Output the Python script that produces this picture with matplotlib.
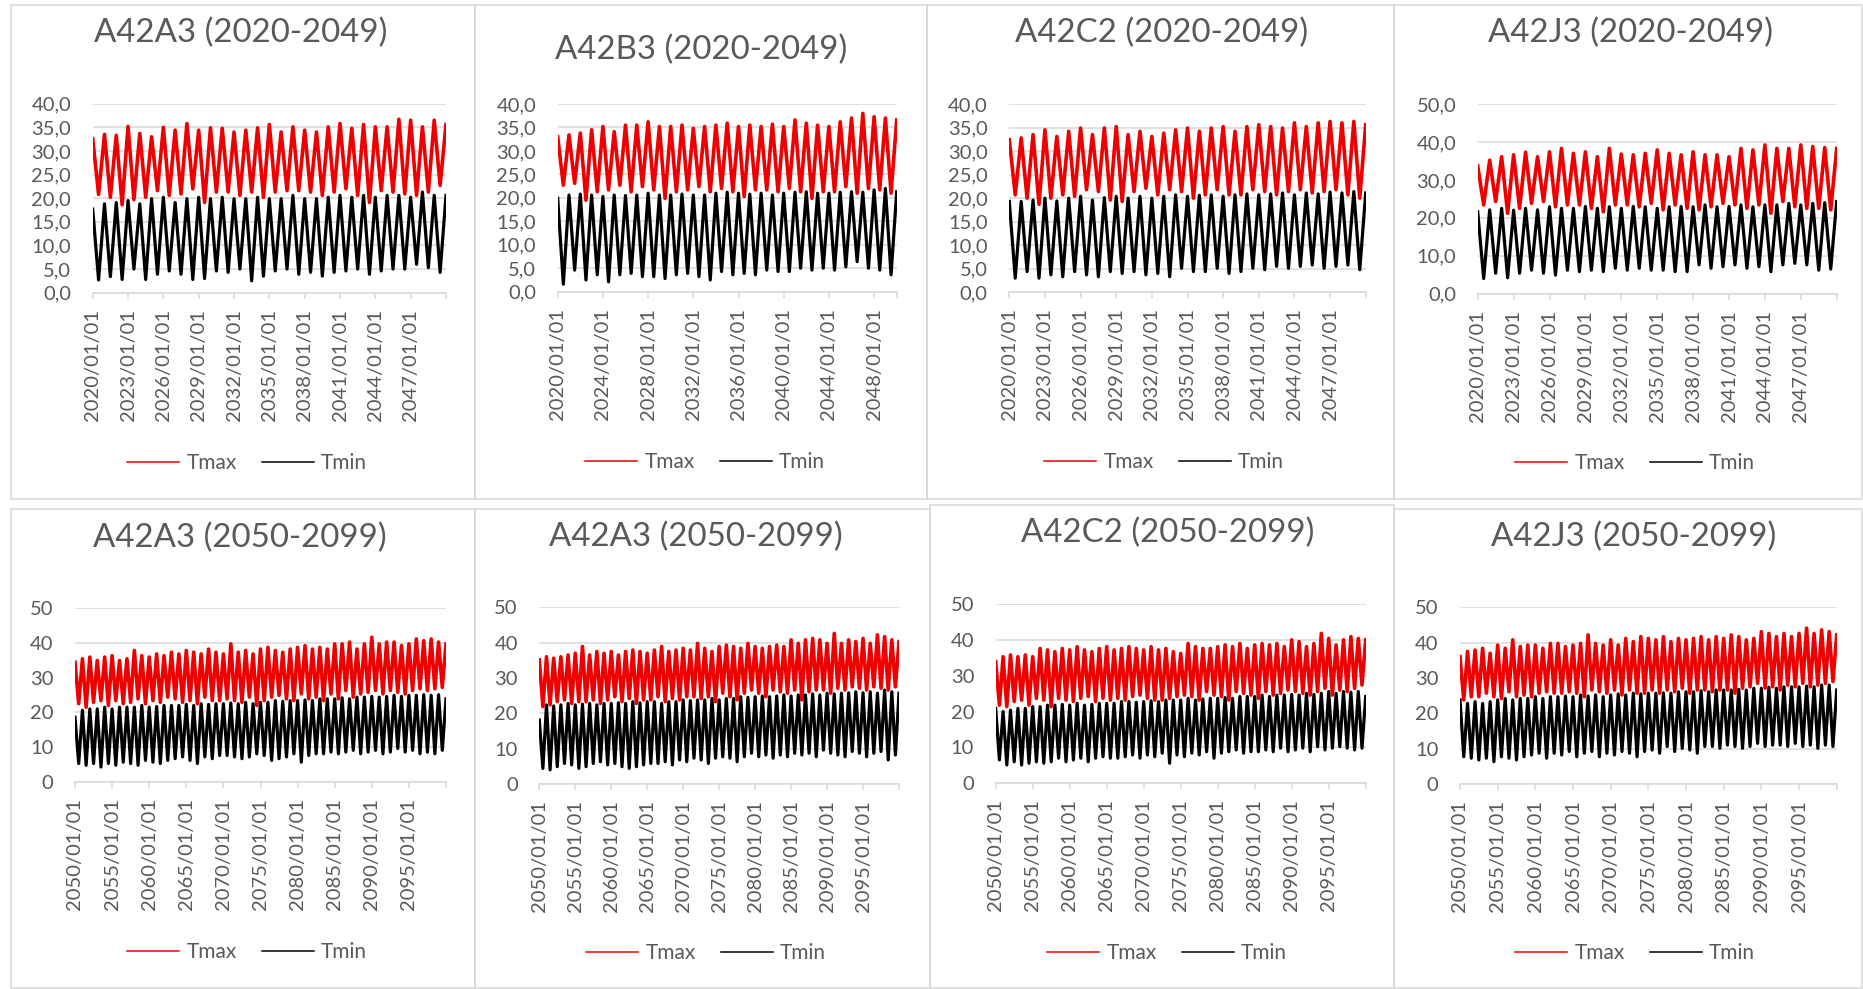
import numpy as np
import matplotlib.pyplot as plt
from matplotlib.lines import Line2D
from matplotlib.patches import Rectangle

# Values: for every year the summer top (around 1 January,
# southern hemisphere) and the winter bottom (around 1 July) of each daily series.
# *_hi has one value per 1 January incl. the closing one, *_lo one per July.

# A42A3 (2020-2049)
p1_tmax_hi = [32.6, 33.5, 33.3, 35.2, 33.7, 33.0, 35.0, 34.4, 35.8, 34.4, 34.9, 34.8, 34.0, 34.4, 34.9, 35.6,
              34.0, 35.1, 34.4, 34.0, 35.1, 35.8, 34.8, 35.6, 35.1, 35.1, 36.7, 36.5, 35.1, 36.5, 35.6]
p1_tmax_lo = [20.8, 20.2, 18.6, 19.7, 20.2, 21.6, 20.6, 20.9, 22.0, 19.1, 21.3, 21.3, 20.6, 21.3, 20.2,
              21.3, 21.6, 21.6, 21.3, 20.6, 21.3, 22.0, 20.6, 19.1, 21.6, 21.3, 20.9, 20.6, 21.3, 22.7]
p1_tmin_hi = [17.7, 18.8, 19.1, 19.5, 18.8, 19.9, 20.2, 19.1, 19.9, 20.2, 19.9, 20.2, 19.9, 19.9, 20.2, 19.9,
              19.9, 20.6, 19.9, 19.9, 20.2, 20.6, 20.2, 20.6, 20.2, 20.6, 20.6, 20.2, 21.3, 20.6, 20.6]
p1_tmin_lo = [2.7, 3.4, 2.8, 5.0, 2.8, 3.9, 4.6, 3.9, 2.8, 3.0, 4.6, 4.3, 5.0, 2.5, 3.5,
              4.6, 5.0, 3.9, 4.3, 3.5, 4.3, 4.6, 5.0, 3.9, 4.6, 5.0, 5.0, 6.0, 5.3, 4.3]

# A42B3 (2020-2049)
p2_tmax_hi = [33.0, 33.4, 33.8, 34.5, 35.2, 34.1, 35.5, 35.5, 36.2, 35.2, 35.2, 35.5, 34.8, 35.2, 35.5, 35.9,
              35.2, 35.5, 35.2, 35.7, 35.2, 36.6, 35.9, 35.5, 35.2, 36.2, 37.0, 38.0, 37.3, 37.0, 36.6]
p2_tmax_lo = [22.7, 23.1, 19.5, 21.3, 21.7, 22.7, 21.3, 22.4, 21.7, 19.9, 21.3, 21.7, 22.4, 21.3, 22.0,
              21.3, 20.3, 21.7, 21.7, 21.3, 22.0, 21.3, 19.9, 21.3, 21.3, 22.4, 21.0, 22.0, 21.7, 21.0]
p2_tmin_hi = [19.9, 20.6, 20.8, 20.6, 20.3, 20.6, 20.5, 20.6, 21.0, 20.6, 20.6, 20.8, 20.6, 20.6, 21.0, 21.2,
              21.0, 20.8, 21.0, 20.6, 21.0, 21.2, 21.3, 21.0, 21.0, 21.2, 21.3, 21.2, 21.7, 22.0, 21.3]
p2_tmin_lo = [1.6, 4.6, 2.5, 3.6, 2.1, 3.6, 3.9, 3.2, 3.2, 2.8, 3.6, 3.9, 3.2, 2.5, 4.3,
              3.6, 3.9, 3.6, 4.6, 4.3, 4.3, 5.0, 4.6, 5.0, 4.6, 5.3, 6.4, 5.0, 4.6, 3.6]

# A42C2 (2020-2049)
p3_tmax_hi = [32.4, 32.8, 33.5, 34.5, 33.1, 34.2, 34.9, 33.5, 34.9, 35.2, 33.5, 34.2, 33.1, 33.8, 34.5, 34.9,
              34.2, 34.9, 35.2, 34.2, 35.2, 35.6, 35.2, 34.9, 36.0, 35.2, 36.0, 36.3, 36.0, 36.3, 35.6]
p3_tmax_lo = [20.7, 20.0, 18.7, 20.0, 20.7, 20.4, 21.8, 21.4, 19.6, 19.3, 21.4, 22.1, 20.7, 21.8, 21.4,
              20.0, 20.7, 21.8, 20.7, 20.7, 21.8, 21.4, 20.7, 21.4, 21.8, 21.1, 21.4, 21.8, 20.7, 20.0]
p3_tmin_hi = [19.3, 19.3, 19.6, 20.0, 19.4, 20.0, 20.4, 19.6, 20.1, 20.4, 20.0, 20.4, 20.0, 20.4, 20.7, 20.4,
              20.6, 20.7, 20.4, 20.7, 20.9, 20.7, 20.9, 21.1, 20.7, 21.1, 20.9, 21.3, 21.1, 21.4, 21.1]
p3_tmin_lo = [3.0, 4.4, 3.0, 3.7, 3.3, 4.4, 3.7, 3.3, 4.4, 4.0, 4.4, 3.7, 4.0, 3.3, 5.1,
              4.4, 4.4, 5.1, 4.0, 4.4, 5.1, 4.8, 5.5, 5.1, 5.5, 5.8, 5.1, 5.5, 5.8, 4.8]

# A42J3 (2020-2049)
p4_tmax_hi = [33.7, 35.2, 36.1, 36.6, 37.3, 36.1, 37.4, 38.3, 37.0, 37.4, 36.1, 38.3, 36.8, 36.6, 37.0, 37.9,
              37.0, 36.6, 37.4, 36.6, 36.6, 36.1, 38.3, 37.9, 39.2, 38.3, 38.3, 39.2, 38.8, 38.5, 38.3]
p4_tmax_lo = [23.4, 24.3, 21.2, 22.5, 23.8, 24.3, 22.9, 23.4, 23.4, 22.5, 21.6, 23.4, 23.4, 22.9, 23.8,
              22.1, 23.4, 22.5, 22.1, 22.9, 23.8, 23.4, 22.5, 23.4, 21.2, 24.3, 22.9, 22.5, 22.5, 22.1]
p4_tmin_hi = [21.6, 22.1, 22.5, 22.0, 22.5, 22.1, 22.9, 22.5, 22.5, 23.0, 22.5, 22.9, 22.5, 23.0, 22.9, 22.5,
              22.9, 23.0, 22.9, 23.4, 22.9, 23.0, 23.4, 22.9, 23.4, 23.4, 23.8, 23.4, 23.8, 24.0, 24.3]
p4_tmin_lo = [4.0, 5.4, 4.2, 5.4, 6.2, 5.4, 4.9, 6.2, 5.8, 6.2, 5.8, 6.7, 6.2, 6.7, 6.2,
              6.2, 5.8, 5.8, 7.6, 6.7, 7.1, 7.6, 6.7, 7.1, 5.8, 7.6, 8.0, 7.6, 6.2, 6.5]

# A42A3 (2050-2099)
p5_tmax_hi = [34.4, 35.4, 35.9, 34.9, 35.9, 36.3, 34.9, 35.4, 37.8, 36.3, 35.9, 36.8, 36.3, 37.3, 36.8, 37.8,
              37.3, 36.8, 38.2, 37.3, 36.8, 39.7, 37.3, 37.8, 36.8, 38.2, 38.7, 37.8, 37.3, 38.2, 38.7,
              39.2, 38.2, 38.7, 38.2, 39.7, 39.7, 40.2, 38.2, 39.7, 41.6, 39.7, 40.2, 40.2, 39.2, 39.7,
              41.1, 40.6, 41.1, 40.2, 39.7]
p5_tmax_lo = [22.5, 21.5, 22.9, 23.4, 22.0, 23.4, 22.5, 22.9, 23.9, 22.5, 23.4, 22.9, 24.4, 23.9, 22.9,
              23.4, 22.5, 24.4, 23.4, 23.4, 23.9, 23.4, 22.9, 24.4, 22.0, 23.4, 24.4, 24.9, 23.9, 23.4,
              25.3, 23.9, 24.4, 23.4, 25.3, 23.9, 26.3, 24.4, 25.3, 25.8, 26.3, 25.3, 26.3, 25.8, 25.3,
              26.3, 26.8, 26.3, 26.8, 27.2]
p5_tmin_hi = [18.6, 20.6, 21.0, 21.0, 21.5, 21.0, 21.5, 21.5, 21.5, 22.0, 21.5, 21.7, 22.0, 22.0, 22.0, 22.3,
              22.0, 22.5, 22.3, 22.5, 22.5, 22.7, 22.5, 22.9, 22.5, 22.9, 22.9, 23.4, 23.2, 23.4, 23.4,
              23.6, 23.4, 23.9, 23.9, 23.9, 24.2, 23.9, 24.4, 24.4, 24.6, 24.4, 24.6, 24.9, 24.6, 24.9,
              24.9, 25.1, 24.9, 25.1, 23.9]
p5_tmin_lo = [5.3, 4.8, 5.3, 4.3, 5.3, 4.8, 5.7, 5.3, 4.8, 6.2, 5.7, 5.3, 6.2, 6.7, 7.2, 6.2, 5.3, 7.2,
              6.7, 7.6, 7.6, 7.2, 6.7, 7.2, 8.1, 7.6, 6.2, 6.7, 7.2, 8.1, 5.7, 7.6, 8.1, 8.1, 8.6, 8.1,
              8.6, 9.1, 8.1, 8.6, 9.1, 8.1, 8.6, 9.6, 8.6, 9.1, 8.1, 8.6, 8.1, 9.1]

# A42A3 (2050-2099), second panel
p6_tmax_hi = [35.1, 36.0, 35.6, 36.0, 36.5, 37.0, 38.9, 36.5, 37.5, 37.0, 37.5, 36.5, 37.5, 37.9, 37.5, 37.0,
              37.9, 38.9, 37.5, 37.9, 38.4, 37.9, 39.8, 38.4, 37.5, 38.9, 39.3, 38.9, 38.4, 39.8, 38.9,
              38.4, 38.9, 39.3, 38.9, 40.8, 39.8, 40.8, 41.2, 40.8, 39.8, 42.6, 39.8, 40.8, 40.3, 41.2,
              39.8, 42.2, 41.7, 40.8, 40.3]
p6_tmax_lo = [21.9, 22.4, 23.3, 23.8, 22.8, 23.3, 23.3, 23.8, 22.8, 23.8, 24.7, 23.3, 24.2, 22.8, 23.8,
              23.8, 24.7, 23.3, 24.2, 23.8, 24.7, 24.7, 24.2, 24.7, 23.3, 25.7, 24.7, 23.8, 25.7, 26.6,
              25.7, 24.7, 26.6, 26.1, 25.7, 26.6, 23.8, 26.1, 26.6, 26.6, 25.7, 27.1, 26.6, 27.5, 27.1,
              26.6, 27.5, 27.1, 26.6, 27.5]
p6_tmin_hi = [18.1, 22.4, 22.1, 22.4, 22.8, 22.4, 22.6, 22.8, 22.4, 22.8, 22.8, 23.0, 22.8, 23.3, 23.0, 23.3,
              23.3, 22.8, 23.3, 23.3, 23.8, 23.6, 23.8, 23.8, 24.2, 23.8, 24.2, 24.2, 24.7, 24.5, 24.7,
              24.9, 24.7, 24.9, 25.2, 24.9, 25.2, 25.2, 25.5, 25.2, 25.7, 25.5, 25.7, 25.8, 26.1, 25.8,
              26.1, 25.7, 26.6, 26.1, 25.7]
p6_tmin_lo = [4.4, 4.0, 4.9, 5.8, 5.4, 4.4, 4.9, 5.8, 6.3, 5.4, 5.8, 4.9, 4.4, 4.9, 5.4, 5.8, 5.8, 6.3,
              5.4, 6.8, 6.3, 7.3, 6.8, 5.8, 7.3, 7.7, 7.3, 6.3, 7.7, 8.7, 7.7, 8.2, 7.3, 8.2, 7.7, 8.7,
              8.2, 8.7, 7.7, 9.6, 8.7, 8.2, 7.7, 9.2, 8.7, 7.7, 8.7, 9.2, 6.8, 8.2]

# A42C2 (2050-2099)
p7_tmax_hi = [33.9, 35.3, 35.8, 35.3, 35.8, 35.3, 37.6, 37.2, 36.7, 37.6, 37.2, 38.1, 37.2, 36.7, 37.6, 38.1,
              37.2, 37.6, 38.1, 37.6, 37.2, 38.1, 37.2, 37.6, 36.7, 36.2, 39.0, 38.1, 37.6, 37.6, 38.1,
              38.6, 38.1, 39.0, 37.6, 38.6, 39.0, 38.6, 39.0, 38.1, 40.0, 39.5, 38.1, 39.0, 41.8, 40.4,
              38.6, 40.0, 40.9, 40.4, 40.0]
p7_tmax_lo = [21.8, 21.4, 22.8, 23.2, 21.8, 23.7, 23.2, 21.4, 23.7, 23.2, 22.8, 23.7, 24.2, 22.8, 23.7,
              23.2, 23.7, 23.2, 24.2, 24.6, 23.7, 23.2, 23.2, 23.7, 24.2, 24.6, 24.2, 23.2, 25.6, 24.6,
              24.2, 23.2, 25.6, 25.1, 24.6, 23.7, 25.6, 24.6, 25.1, 26.0, 25.6, 25.1, 24.6, 25.6, 26.5,
              24.6, 26.0, 25.6, 26.5, 27.4]
p7_tmin_hi = [20.9, 20.0, 20.4, 20.9, 20.9, 21.4, 21.4, 21.8, 21.8, 22.0, 21.8, 22.3, 21.8, 22.0, 22.3, 22.3,
              22.3, 22.8, 22.8, 22.6, 22.8, 23.0, 22.8, 23.2, 23.2, 23.2, 23.7, 23.2, 23.5, 23.7, 23.7,
              23.9, 23.7, 24.2, 24.2, 24.2, 24.6, 24.2, 24.6, 24.6, 24.8, 24.6, 25.1, 24.8, 25.1, 25.6,
              25.1, 25.6, 25.4, 25.6, 24.2]
p7_tmin_lo = [6.5, 5.1, 6.0, 5.1, 5.6, 6.0, 5.6, 6.0, 7.0, 6.0, 6.5, 7.0, 6.0, 7.0, 7.4, 7.0, 7.0, 7.4,
              7.9, 7.0, 7.9, 7.4, 8.4, 5.6, 7.9, 7.4, 8.4, 7.9, 8.8, 7.0, 8.4, 8.8, 9.3, 8.4, 8.8, 8.8,
              9.3, 8.8, 9.8, 8.8, 9.3, 9.8, 8.8, 10.2, 9.3, 9.8, 10.2, 9.8, 9.3, 9.8]

# A42J3 (2050-2099)
p8_tmax_hi = [36.0, 37.5, 37.9, 38.4, 37.0, 39.3, 38.4, 40.8, 38.9, 39.3, 39.3, 38.4, 39.8, 39.8, 38.9, 39.3,
              39.8, 42.2, 39.8, 39.3, 40.8, 39.3, 41.2, 40.3, 41.7, 41.2, 40.8, 41.7, 40.3, 41.2, 40.8,
              41.2, 41.7, 40.8, 41.7, 41.2, 42.2, 41.7, 40.8, 41.2, 43.1, 42.6, 41.7, 42.6, 41.7, 42.6,
              44.1, 42.6, 43.6, 43.1, 42.2]
p8_tmax_lo = [23.8, 24.7, 24.7, 25.7, 24.7, 24.2, 26.1, 24.7, 25.2, 24.7, 25.7, 26.1, 25.7, 25.7, 26.1,
              25.7, 24.7, 26.6, 26.1, 25.7, 26.6, 25.2, 26.6, 25.7, 25.7, 26.6, 25.7, 26.6, 26.1, 27.1,
              25.7, 26.6, 26.6, 26.1, 26.6, 26.6, 25.7, 27.1, 27.5, 28.5, 27.1, 27.5, 26.6, 28.0, 27.5,
              28.5, 27.5, 28.0, 28.5, 29.0]
p8_tmin_hi = [23.8, 22.8, 23.3, 22.8, 23.3, 23.8, 24.2, 23.8, 24.2, 24.2, 24.7, 24.2, 24.7, 24.7, 24.9, 24.7,
              25.2, 24.9, 25.2, 24.7, 25.2, 25.5, 25.2, 25.7, 25.5, 25.7, 25.7, 25.8, 25.7, 26.1, 26.1,
              26.1, 26.4, 26.1, 26.6, 26.6, 26.6, 26.8, 26.6, 27.1, 27.1, 27.4, 27.1, 27.5, 27.5, 27.5,
              27.7, 27.5, 28.0, 28.0, 26.6]
p8_tmin_lo = [7.7, 7.3, 6.8, 7.3, 6.3, 7.7, 7.3, 6.8, 7.7, 8.2, 8.7, 7.3, 8.7, 8.2, 9.2, 7.7, 8.7, 9.2,
              7.7, 8.7, 8.2, 9.2, 8.7, 7.7, 9.2, 9.6, 8.7, 10.6, 9.2, 10.1, 9.6, 8.7, 10.6, 10.6, 10.1,
              11.0, 10.6, 10.1, 10.6, 11.5, 10.6, 11.0, 11.0, 10.6, 11.5, 10.6, 11.0, 10.1, 11.0, 10.6]

titles = ['A42A3 (2020-2049)', 'A42B3 (2020-2049)', 'A42C2 (2020-2049)', 'A42J3 (2020-2049)',
          'A42A3 (2050-2099)', 'A42A3 (2050-2099)', 'A42C2 (2050-2099)', 'A42J3 (2050-2099)']
first_years = [2020, 2020, 2020, 2020, 2050, 2050, 2050, 2050]
tick_steps = [3, 4, 3, 3, 5, 5, 5, 5]
y_tops = [40, 40, 40, 50, 50, 50, 50, 50]
y_steps = [5, 5, 5, 10, 10, 10, 10, 10]
decimal_labels = [True, True, True, True, False, False, False, False]
series = [
    (p1_tmax_hi, p1_tmax_lo, p1_tmin_hi, p1_tmin_lo),
    (p2_tmax_hi, p2_tmax_lo, p2_tmin_hi, p2_tmin_lo),
    (p3_tmax_hi, p3_tmax_lo, p3_tmin_hi, p3_tmin_lo),
    (p4_tmax_hi, p4_tmax_lo, p4_tmin_hi, p4_tmin_lo),
    (p5_tmax_hi, p5_tmax_lo, p5_tmin_hi, p5_tmin_lo),
    (p6_tmax_hi, p6_tmax_lo, p6_tmin_hi, p6_tmin_lo),
    (p7_tmax_hi, p7_tmax_lo, p7_tmin_hi, p7_tmin_lo),
    (p8_tmax_hi, p8_tmax_lo, p8_tmin_hi, p8_tmin_lo),
]

# layout in pixels of the 1863x989 picture
W, H = 1863, 989
frames = [(11, 5, 475, 499), (475, 5, 927, 499), (927, 5, 1394, 499), (1394, 5, 1862, 499),
          (11, 509, 475, 988), (475, 509, 930, 988), (930, 505, 1394, 988), (1394, 509, 1862, 988)]
areas = [(92.7, 103.7, 446, 292.7), (557.7, 104, 896.7, 291.7), (1009.3, 104, 1365.7, 292.3),
         (1477.7, 104, 1836.7, 293.7), (75, 608, 446, 782), (539.3, 607.3, 899, 784),
         (995.7, 604, 1365.7, 783.3), (1460, 607.3, 1836.7, 784)]
title_xy = [(241, 33), (701, 50), (1162, 33), (1630, 33), (240, 538), (696, 537), (1168, 533), (1634, 537)]
legend_xy = [(247, 463), (705, 462), (1164, 462), (1635, 463), (247, 952), (706, 953), (1167, 953), (1635, 953)]

GRID = '#d9d9d9'
TEXT = '#595959'
RED = '#ee0000'

plt.rcParams['font.family'] = ['Lato', 'DejaVu Sans']

fig = plt.figure(figsize=(W / 100, H / 100), dpi=100)


def zigzag(start, hi, lo):
    n = len(lo)
    years = start + np.arange(n + 1)
    x = np.empty(2 * n + 1)
    y = np.empty(2 * n + 1)
    x[0::2] = years
    x[1::2] = years[:-1] + 0.5
    y[0::2] = hi
    y[1::2] = lo
    return x, y


for i in range(8):
    x0, y0, x1, y1 = frames[i]
    fig.add_artist(Rectangle((x0 / W, 1 - y1 / H), (x1 - x0) / W, (y1 - y0) / H,
                             transform=fig.transFigure, fill=False, ec=GRID, lw=1.2))

    ax0, ay0, ax1, ay1 = areas[i]
    ax = fig.add_axes([ax0 / W, 1 - ay1 / H, (ax1 - ax0) / W, (ay1 - ay0) / H])

    tmax_hi, tmax_lo, tmin_hi, tmin_lo = series[i]
    start = first_years[i]
    n = len(tmax_lo)
    # thick strokes stand in for the day-to-day scatter of the daily series
    xs, ys = zigzag(start, tmax_hi, tmax_lo)
    ax.plot(xs, ys, color=RED, lw=2.6)
    xs, ys = zigzag(start, tmin_hi, tmin_lo)
    ax.plot(xs, ys, color='black', lw=2.3)

    ax.set_xlim(start, start + n)
    ax.set_ylim(0, y_tops[i])
    yt = np.arange(0, y_tops[i] + 1, y_steps[i])
    ax.set_yticks(yt)
    if decimal_labels[i]:
        ax.set_yticklabels([f'{v:.1f}'.replace('.', ',') for v in yt])
    else:
        ax.set_yticklabels([str(v) for v in yt])
    xt = np.arange(start, start + n, tick_steps[i])
    ax.set_xticks(xt)
    ax.set_xticklabels([f'{t}/01/01' for t in xt], rotation=90)
    ax.set_xticks([start + n], minor=True)

    ax.grid(axis='y', color=GRID, lw=1.1)
    ax.set_axisbelow(True)
    for s in ['top', 'right', 'left']:
        ax.spines[s].set_visible(False)
    ax.spines['bottom'].set_color(GRID)
    ax.spines['bottom'].set_linewidth(1.1)
    ax.tick_params(axis='y', length=0, pad=15.5, labelsize=14.5, labelcolor=TEXT)
    ax.tick_params(axis='x', which='both', direction='out', length=4.5, width=1.1, color=GRID,
                   pad=7, labelsize=14.5, labelcolor=TEXT)

    tx, ty = title_xy[i]
    fig.text(tx / W, 1 - ty / H, titles[i], ha='center', va='center', fontsize=23.8, color=TEXT)

    handles = [Line2D([], [], color=RED, lw=1.1), Line2D([], [], color='black', lw=1.1)]
    lx, ly = legend_xy[i]
    ax.legend(handles, ['Tmax', 'Tmin'], ncol=2, loc='center', bbox_to_anchor=(lx / W, 1 - ly / H),
              bbox_transform=fig.transFigure, frameon=False, fontsize=15, labelcolor=TEXT,
              handlelength=2.5, handletextpad=0.35, columnspacing=1.2)

fig.savefig('out.png', dpi=100)
